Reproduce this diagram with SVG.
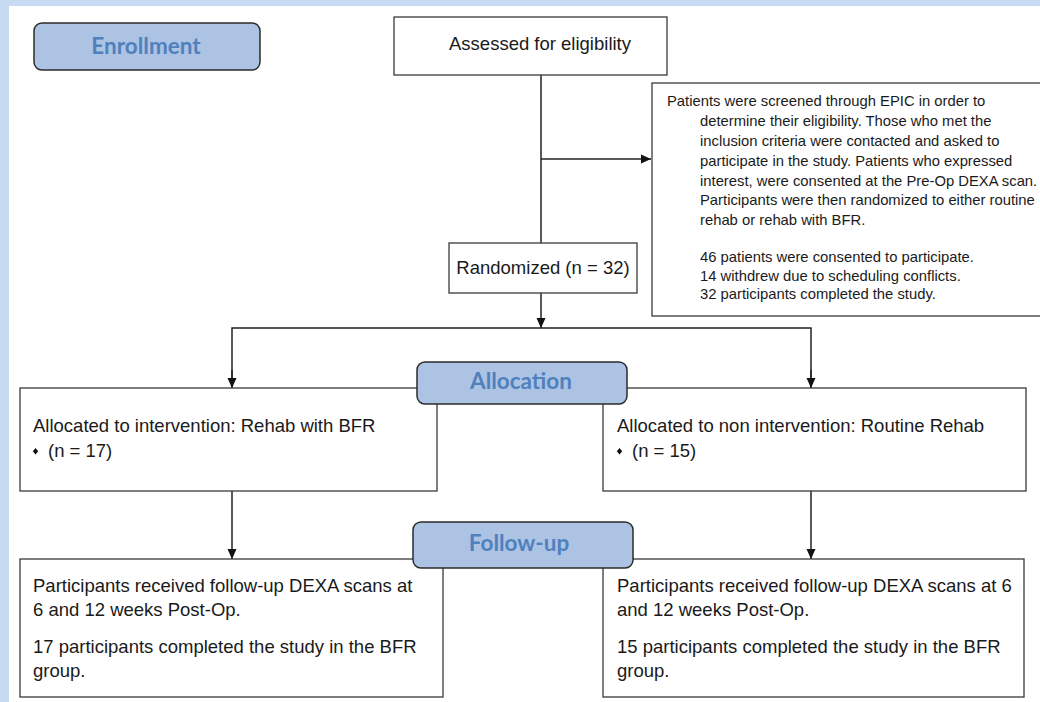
<svg xmlns="http://www.w3.org/2000/svg" width="1040" height="702" viewBox="0 0 1040 702">
<style>
.stage rect{fill:#adc3e4;stroke:#2b2b2b;stroke-width:1.5}
.stage text{font-family:Lato,"Open Sans",sans-serif;font-weight:bold;font-size:22.5px;fill:#4f81bd;text-anchor:middle}
.box rect{fill:#fff;stroke:#3a3a3a;stroke-width:1.3}
.box text{font-family:"Liberation Sans",Arial,sans-serif;font-size:18.5px;fill:#1a1a1a}
.note text{font-size:14.8px}
.conn path{fill:none;stroke:#222;stroke-width:1.5}
</style>
<defs>
<marker id="ah" viewBox="0 0 10 10" refX="10" refY="5" markerWidth="10" markerHeight="10" markerUnits="userSpaceOnUse" orient="auto">
<path d="M0,0.5 L10,5 L0,9.5 z" fill="#111"/>
</marker>
</defs>
<rect x="0" y="0" width="1040" height="702" fill="#c6daf1"/>
<rect x="9" y="6" width="1031" height="696" fill="#fff"/>

<g class="conn">
<path d="M541,75 V243"/>
<path d="M541,159 H651" marker-end="url(#ah)"/>
<path d="M541,293 V328" marker-end="url(#ah)"/>
<path d="M232,388 V328 H811 V388" />
<path d="M232,370 V388" marker-end="url(#ah)"/>
<path d="M811,370 V388" marker-end="url(#ah)"/>
<path d="M232,491 V559" marker-end="url(#ah)"/>
<path d="M811,491 V559" marker-end="url(#ah)"/>
</g>

<g id="assessed" class="box">
<rect x="394" y="17" width="273" height="58"/>
<text x="540" y="50" text-anchor="middle">Assessed for eligibility</text>
</g>

<g id="screening" class="box note">
<rect x="652" y="83" width="400" height="233"/>
<text x="667" y="106">Patients were screened through EPIC in order to</text>
<text x="700" y="126">determine their eligibility. Those who met the</text>
<text x="700" y="146">inclusion criteria were contacted and asked to</text>
<text x="700" y="166">participate in the study. Patients who expressed</text>
<text x="700" y="186">interest, were consented at the Pre-Op DEXA scan.</text>
<text x="700" y="205">Participants were then randomized to either routine</text>
<text x="700" y="225">rehab or rehab with BFR.</text>
<text x="700" y="262">46 patients were consented to participate.</text>
<text x="700" y="281">14 withdrew due to scheduling conflicts.</text>
<text x="700" y="299">32 participants completed the study.</text>
</g>

<g id="randomized" class="box">
<rect x="449" y="243" width="188" height="50"/>
<text x="543" y="274" text-anchor="middle">Randomized (n = 32)</text>
</g>

<g id="alloc-bfr" class="box">
<rect x="20" y="388" width="417" height="103"/>
<text x="33" y="432">Allocated to intervention: Rehab with BFR</text>
<path d="M35.5,448 l2.7,3.3 l-2.7,3.3 l-2.7,-3.3 z" fill="#111"/>
<text x="48" y="457">(n = 17)</text>
</g>

<g id="alloc-routine" class="box">
<rect x="603" y="388" width="423" height="103"/>
<text x="617" y="432">Allocated to non intervention: Routine Rehab</text>
<path d="M619.5,448 l2.7,3.3 l-2.7,3.3 l-2.7,-3.3 z" fill="#111"/>
<text x="632" y="457">(n = 15)</text>
</g>

<g id="follow-bfr" class="box">
<rect x="20" y="559" width="423" height="138"/>
<text x="33" y="592">Participants received follow-up DEXA scans at</text>
<text x="33" y="616">6 and 12 weeks Post-Op.</text>
<text x="33" y="653">17 participants completed the study in the BFR</text>
<text x="33" y="677">group.</text>
</g>

<g id="follow-routine" class="box">
<rect x="603" y="559" width="421" height="138"/>
<text x="617" y="592">Participants received follow-up DEXA scans at 6</text>
<text x="617" y="616">and 12 weeks Post-Op.</text>
<text x="617" y="653">15 participants completed the study in the BFR</text>
<text x="617" y="677">group.</text>
</g>

<g id="enrollment" class="stage">
<rect x="34" y="23" width="226" height="47" rx="8"/>
<text x="146" y="54">Enrollment</text>
</g>

<g id="allocation" class="stage">
<rect x="417" y="362" width="210" height="42" rx="8"/>
<text x="521" y="389">Allocation</text>
</g>

<g id="followup" class="stage">
<rect x="413" y="522" width="220" height="46" rx="8"/>
<text x="519" y="551">Follow-up</text>
</g>
</svg>
